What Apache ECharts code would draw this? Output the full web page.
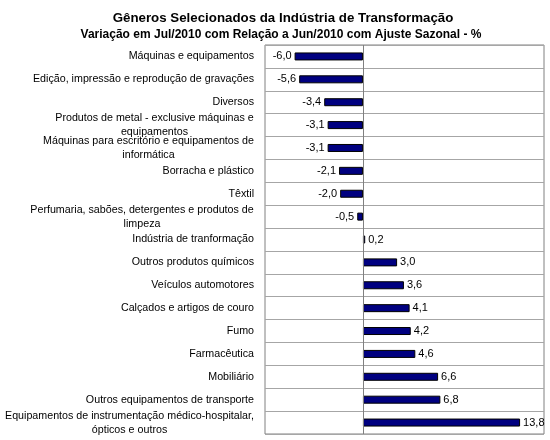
<!DOCTYPE html>
<html>
<head>
<meta charset="utf-8">
<script src="https://cdn.jsdelivr.net/npm/echarts@6/dist/echarts.min.js"></script>
<style>html,body{margin:0;padding:0;background:#fff}#c{width:550px;height:440px}</style>
</head>
<body>
<div id="c"></div>
<script>
var titleText = 'Gêneros Selecionados da Indústria de Transformação';
var subtitleBold = 'Variação em Jul/2010 com Relação a Jun/2010 com Ajuste Sazonal';
var subtitleTail = ' - %';
var categories = [
  'Máquinas e equipamentos',
  'Edição, impressão e reprodução de gravações',
  'Diversos',
  'Produtos de metal - exclusive máquinas e\nequipamentos',
  'Máquinas para escritório e equipamentos de\ninformática',
  'Borracha e plástico',
  'Têxtil',
  'Perfumaria, sabões, detergentes e produtos de\nlimpeza',
  'Indústria de tranformação',
  'Outros produtos químicos',
  'Veículos automotores',
  'Calçados e artigos de couro',
  'Fumo',
  'Farmacêutica',
  'Mobiliário',
  'Outros equipamentos de transporte',
  'Equipamentos de instrumentação médico-hospitalar,\nópticos e outros'
];
var values = [-6.0, -5.6, -3.4, -3.1, -3.1, -2.1, -2.0, -0.5, 0.2, 3.0, 3.6, 4.1, 4.2, 4.6, 6.6, 6.8, 13.8];

var font = 'Arial, "Liberation Sans", sans-serif';
var labelFontSize = 10.7;
var ctx = document.createElement('canvas').getContext('2d');
ctx.font = labelFontSize + 'px ' + font;

var chart = echarts.init(document.getElementById('c'));
chart.setOption({
  animation: false,
  title: [
    {text: titleText, left: 278, top: 7, textAlign: 'center',
     textStyle: {fontFamily: font, fontSize: 13.3, fontWeight: 'bold', color: '#000'}},
    {text: '{b|' + subtitleBold + '}{n|' + subtitleTail + '}', left: 276, top: 24, textAlign: 'center',
     textStyle: {fontFamily: font, fontSize: 12, color: '#000',
       rich: {b: {fontFamily: font, fontSize: 12, fontWeight: 'bold', color: '#000'},
              n: {fontFamily: font, fontSize: 12, color: '#000'}}}}
  ],
  grid: {left: 265, right: 6, top: 45, bottom: 6, show: true, borderColor: '#808080', borderWidth: 1,
         containLabel: false, outerBoundsMode: 'none'},
  xAxis: {
    type: 'value', min: -8.6, max: 15.9,
    axisLine: {show: false}, axisTick: {show: false}, axisLabel: {show: false}, splitLine: {show: false}
  },
  yAxis: {
    type: 'category', inverse: true,
    data: categories.map(function (c) {
      var lines = c.split('\n');
      if (lines.length < 2) return c;
      var w = 0;
      lines.forEach(function (l) { w = Math.max(w, Math.ceil(ctx.measureText(l).width)); });
      return {value: c, textStyle: {align: 'center', padding: [0, w, 0, 0]}};
    }),
    axisLine: {show: false, onZero: false}, axisTick: {show: false},
    axisLabel: {fontFamily: font, fontSize: labelFontSize, color: '#000', margin: 11, lineHeight: 14, align: 'right'},
    splitLine: {show: true, lineStyle: {color: '#a6a6a6', width: 1}}
  },
  series: [{
    type: 'bar',
    barWidth: 8,
    data: values.map(function (v) {
      return {value: v, label: {position: v < 0 ? 'left' : 'right'}};
    }),
    itemStyle: {color: '#000080', borderColor: '#000', borderWidth: 1},
    label: {
      show: true, distance: 3, fontFamily: font, fontSize: 11, color: '#000',
      formatter: function (p) { return p.value.toFixed(1).replace('.', ','); }
    },
    markLine: {
      silent: true, symbol: 'none', animation: false,
      label: {show: false},
      lineStyle: {color: '#808080', type: 'solid', width: 1},
      data: [{xAxis: 0}]
    }
  }]
});
</script>
</body>
</html>
